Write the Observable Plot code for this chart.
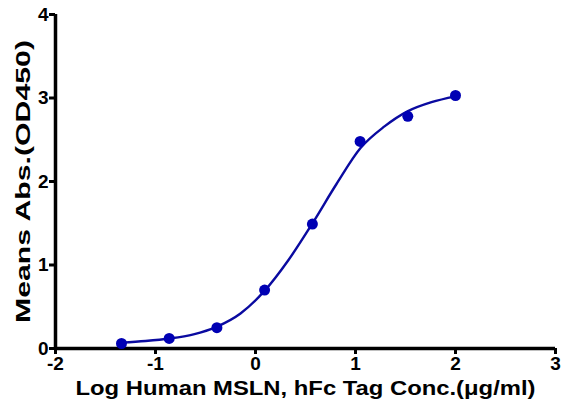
<!DOCTYPE html>
<html>
<head>
<meta charset="utf-8">
<script src="https://cdn.jsdelivr.net/npm/d3@7"></script>
<script src="https://cdn.jsdelivr.net/npm/@observablehq/plot@0.6"></script>
<style>
  html, body { margin: 0; padding: 0; background: #fff; }
  svg { font-family: "Liberation Sans", Arial, sans-serif; }
</style>
</head>
<body>
<div id="chart"></div>
<script>
// Measured points (log concentration, mean absorbance)
const logConc = [-1.34, -0.863, -0.386, 0.091, 0.569, 1.046, 1.523, 2.0];
const meanAbs = [0.06, 0.12, 0.25, 0.70, 1.49, 2.48, 2.78, 3.03];

// Fitted curve
const curveX = [-1.34, -1.1, -0.86, -0.62, -0.39, -0.15, 0.09, 0.33, 0.57, 0.81, 1.05, 1.29, 1.52, 1.76, 2.0];
const curveY = [0.07, 0.09, 0.12, 0.17, 0.26, 0.42, 0.69, 1.06, 1.50, 1.97, 2.40, 2.66, 2.84, 2.95, 3.02];

const xTicks = [-2, -1, 0, 1, 2, 3];
const yTicks = [0, 1, 2, 3, 4];
const xTitle = "Log Human MSLN, hFc Tag Conc.(μg/ml)";
const yTitle = "Means Abs.(OD450)";

const points = logConc.map((x, i) => ({x, y: meanAbs[i]}));
const curve = curveX.map((x, i) => ({x, y: curveY[i]}));

const blue = "#0a0aa0";

const chart = Plot.plot({
  width: 562,
  height: 414,
  marginLeft: 55,
  marginRight: 7,
  marginTop: 14,
  marginBottom: 66,
  x: {domain: [-2, 3]},
  y: {domain: [0, 4]},
  style: {fontFamily: "'Liberation Sans', Arial, sans-serif", color: "#000", background: "#fff"},
  marks: [
    Plot.axisX({
      ticks: xTicks, tickSize: 6, tickPadding: 2, tickFormat: d => String(d),
      fontSize: 19, fontWeight: "bold", strokeWidth: 3, label: null
    }),
    Plot.axisY({
      ticks: yTicks, tickSize: 6, tickPadding: 1, tickFormat: d => String(d),
      fontSize: 19, fontWeight: "bold", strokeWidth: 3, label: null
    }),
    Plot.text([xTitle], {frameAnchor: "bottom", dy: 46, text: d => d, fontSize: 20, fontWeight: "bold"}),
    Plot.text([yTitle], {frameAnchor: "left", textAnchor: "middle", rotate: -90, dx: -32, text: d => d, fontSize: 21, fontWeight: "bold"}),
    Plot.ruleY([0], {stroke: "#000", strokeWidth: 3.5}),
    Plot.ruleX([-2], {stroke: "#000", strokeWidth: 3.5}),
    Plot.line(curve, {x: "x", y: "y", curve: "monotone-x", stroke: blue, strokeWidth: 2.4}),
    Plot.dot(points, {x: "x", y: "y", r: 5.5, fill: "#0000b4", stroke: "none"})
  ]
});

// stretch the titles to the extents seen in the reference
const texts = Array.from(chart.querySelectorAll("text"));
const xt = texts.find(t => t.textContent === xTitle);
if (xt) { xt.setAttribute("textLength", "460"); xt.setAttribute("lengthAdjust", "spacingAndGlyphs"); }
const yt = texts.find(t => t.textContent === yTitle);
if (yt) { yt.setAttribute("textLength", "283"); yt.setAttribute("lengthAdjust", "spacingAndGlyphs"); }

document.getElementById("chart").appendChild(chart);
</script>
</body>
</html>
